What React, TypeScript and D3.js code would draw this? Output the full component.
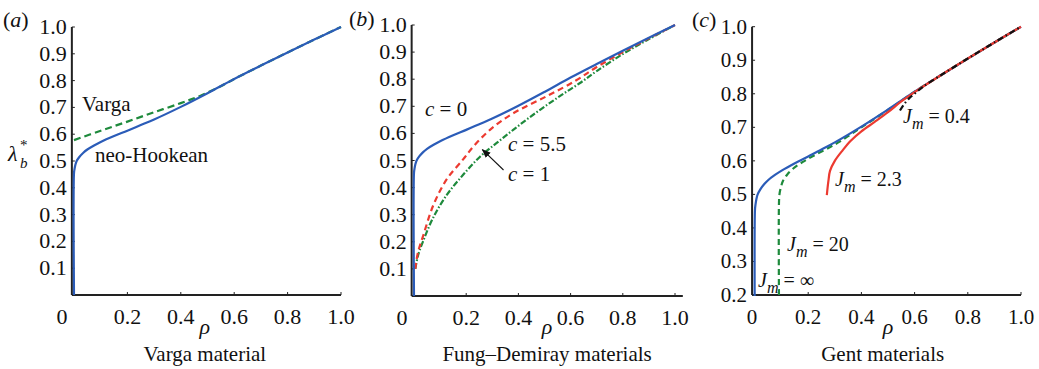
import React from 'react';
import * as d3 from 'd3';

// ---------- data ----------
const xTickValues = [0, 0.2, 0.4, 0.6, 0.8, 1.0];
const xTickLabels = ['0', '0.2', '0.4', '0.6', '0.8', '1.0'];
const yTicksAB = [0.1, 0.2, 0.3, 0.4, 0.5, 0.6, 0.7, 0.8, 0.9, 1.0];
const yTicksC = [0.2, 0.3, 0.4, 0.5, 0.6, 0.7, 0.8, 0.9, 1.0];

// neo-Hookean (c = 0, Jm = infinity)
const rhoNeo = [0, 0, 0.002, 0.005, 0.01, 0.02, 0.035, 0.05, 0.075, 0.1, 0.15, 0.2, 0.25, 0.3, 0.4, 0.5, 0.6, 0.7, 0.8, 0.9, 1.0];
const lamNeo = [0, 0.455, 0.47, 0.485, 0.5, 0.515, 0.531, 0.543, 0.558, 0.571, 0.593, 0.613, 0.634, 0.655, 0.702, 0.753, 0.806, 0.856, 0.905, 0.953, 1.0];

// Varga
const rhoVarga = [0, 0.1, 0.2, 0.3, 0.4, 0.47, 0.55, 0.6, 0.7, 0.8, 0.9, 1.0];
const lamVarga = [0.578, 0.613, 0.647, 0.682, 0.716, 0.742, 0.779, 0.806, 0.856, 0.905, 0.953, 1.0];

// Fung-Demiray c = 5.5 (red dashed)
const rhoFD55 = [0.005, 0.015, 0.036, 0.074, 0.125, 0.189, 0.227, 0.291, 0.38, 0.508, 0.62, 0.7, 0.8, 0.9, 1.0];
const lamFD55 = [0.1, 0.16, 0.225, 0.335, 0.43, 0.505, 0.551, 0.613, 0.674, 0.737, 0.795, 0.845, 0.9, 0.951, 1.0];

// Fung-Demiray c = 1 (green dash-dot)
const rhoFD1 = [0.005, 0.015, 0.036, 0.074, 0.125, 0.189, 0.253, 0.317, 0.38, 0.444, 0.508, 0.572, 0.636, 0.7, 0.8, 0.9, 1.0];
const lamFD1 = [0.1, 0.148, 0.205, 0.29, 0.372, 0.448, 0.514, 0.565, 0.613, 0.66, 0.704, 0.746, 0.786, 0.83, 0.893, 0.948, 1.0];

// Gent Jm = 20 (green dashed)
const rhoG20 = [0.09, 0.09, 0.092, 0.097, 0.105, 0.12, 0.145, 0.18, 0.22, 0.27, 0.32, 0.4, 0.5, 0.6, 0.7, 0.8, 0.9, 1.0];
const lamG20 = [0.2, 0.47, 0.5, 0.52, 0.54, 0.558, 0.578, 0.597, 0.615, 0.636, 0.658, 0.7, 0.752, 0.806, 0.856, 0.905, 0.953, 1.0];

// Gent Jm = 2.3 (red solid)
const rhoG23 = [0.27, 0.276, 0.282, 0.3, 0.33, 0.36, 0.4, 0.45, 0.5, 0.55, 0.6, 0.7, 0.8, 0.9, 1.0];
const lamG23 = [0.498, 0.54, 0.57, 0.6, 0.632, 0.66, 0.688, 0.716, 0.745, 0.777, 0.805, 0.856, 0.905, 0.953, 1.0];

// Gent Jm = 0.4 (black dash-dot)
const rhoG04 = [0.545, 0.56, 0.58, 0.6, 0.63, 0.7, 0.8, 0.9, 1.0];
const lamG04 = [0.75, 0.768, 0.787, 0.8, 0.82, 0.856, 0.905, 0.953, 1.0];

// ---------- style ----------
const FONT = "'Liberation Serif', 'Times New Roman', Times, serif";
const BLUE = '#2b5cb8';
const GREEN = '#1e8a3c';
const RED = '#ec3a30';
const AXIS = '#222';

type Scale = d3.ScaleLinear<number, number>;

function Curve({ xs, ys, sx, sy, color, dash, width = 2.2, clip }: any) {
  const line = d3
    .line<number>()
    .x((_, i) => sx(xs[i]))
    .y((_, i) => sy(ys[i]))
    .curve(d3.curveCatmullRom.alpha(0.5));
  return (
    <path
      d={line(xs) || ''}
      fill="none"
      stroke={color}
      strokeWidth={width}
      strokeDasharray={dash}
      clipPath={clip}
    />
  );
}

function Axes({ sx, sy, axisRho, endRho, yMin, yTicks, zeroDx, fs }: {
  sx: Scale; sy: Scale; axisRho: number; endRho: number; yMin: number; yTicks: number[]; zeroDx: number; fs: number;
}) {
  const ax = sx(axisRho);
  const ay = sy(yMin);
  const top = sy(1.0);
  return (
    <g fontFamily={FONT} fontSize={fs} fill="#111">
      <line x1={ax} x2={ax} y1={top} y2={ay} stroke={AXIS} strokeWidth={2} />
      <line x1={ax} x2={sx(endRho)} y1={ay} y2={ay} stroke={AXIS} strokeWidth={2} />
      {xTickValues.map((v, i) => (
        <g key={'x' + i}>
          {v > 0 && <line x1={sx(v)} x2={sx(v)} y1={ay} y2={ay - 3} stroke={AXIS} strokeWidth={1} />}
          <text x={sx(v) + (v === 0 ? zeroDx : 0)} y={ay + 29} textAnchor="middle">
            {xTickLabels[i]}
          </text>
        </g>
      ))}
      {yTicks.map((v) => (
        <g key={'y' + v}>
          <line x1={ax} x2={ax + 3} y1={sy(v)} y2={sy(v)} stroke={AXIS} strokeWidth={1} />
          <text x={ax - 5} y={sy(v) + 7} textAnchor="end">
            {v.toFixed(1)}
          </text>
        </g>
      ))}
    </g>
  );
}

function Jm({ x, y, value, fs = 21 }: any) {
  return (
    <text x={x} y={y} fontFamily={FONT} fontSize={fs} fill="#111">
      <tspan fontStyle="italic">J</tspan>
      <tspan fontStyle="italic" fontSize={fs * 0.8} dy={6}>m</tspan>
      <tspan dy={-6}>{' = ' + value}</tspan>
    </text>
  );
}

export default function App() {
  const sxA = d3.scaleLinear().domain([0, 1]).range([74, 341]);
  const syA = d3.scaleLinear().domain([0, 1]).range([295, 27]);
  const sxB = d3.scaleLinear().domain([0, 1]).range([414, 675]);
  const syB = d3.scaleLinear().domain([0, 1]).range([296, 25]);
  const sxC = d3.scaleLinear().domain([0, 1]).range([755, 1021]);
  const syC = d3.scaleLinear().domain([0.2, 1]).range([295, 26.7]);

  const fs = 22;
  const arrowTip = [sxB(0.262), syB(0.54)];
  const arrowTail = [sxB(0.343), syB(0.465)];
  const rhoY = 334;
  const capY = 361;

  return (
    <svg
      width={1039}
      height={369}
      style={{ position: 'absolute', left: 0, top: 0, background: '#fff' }}
      xmlns="http://www.w3.org/2000/svg"
    >
      <defs>
        <clipPath id="clipC">
          <rect x={sxC(-0.02)} y={0} width={sxC(1.05) - sxC(-0.02)} height={syC(0.2) + 1} />
        </clipPath>
        <marker id="arr" viewBox="0 0 10 10" refX={9} refY={5} markerWidth={9} markerHeight={9} orient="auto" markerUnits="userSpaceOnUse">
          <path d="M0,1 L10,5 L0,9 Z" fill="#111" />
        </marker>
      </defs>
      <rect x={0} y={0} width={1039} height={369} fill="#fff" />

      {/* ---------- panel (a) ---------- */}
      <Axes sx={sxA} sy={syA} axisRho={-0.008} endRho={1.0} yMin={0} yTicks={yTicksAB} zeroDx={-12} fs={fs} />
      <Curve xs={rhoVarga} ys={lamVarga} sx={sxA} sy={syA} color={GREEN} dash="7 4" />
      <Curve xs={rhoNeo} ys={lamNeo} sx={sxA} sy={syA} color={BLUE} />
      <g fontFamily={FONT} fontSize={21} fill="#111">
        <text x={3} y={27} fontSize={22}>(<tspan fontStyle="italic">a</tspan>)</text>
        <text x={82} y={111}>Varga</text>
        <text x={95} y={162}>neo-Hookean</text>
        <text x={8} y={161} fontStyle="italic" fontSize={22}>λ</text>
        <text x={20} y={168} fontStyle="italic" fontSize={15}>b</text>
        <text x={20} y={150} fontSize={15}>*</text>
        <text x={sxA(0.49)} y={rhoY} textAnchor="middle" fontStyle="italic" fontSize={22}>ρ</text>
        <text x={sxA(0.49)} y={capY} textAnchor="middle">Varga material</text>
      </g>

      {/* ---------- panel (b) ---------- */}
      <Axes sx={sxB} sy={syB} axisRho={-0.009} endRho={1.03} yMin={0} yTicks={yTicksAB} zeroDx={-12} fs={fs} />
      <Curve xs={rhoFD1} ys={lamFD1} sx={sxB} sy={syB} color={GREEN} dash="6 2 1.5 2" />
      <Curve xs={rhoFD55} ys={lamFD55} sx={sxB} sy={syB} color={RED} dash="6 4" />
      <Curve xs={rhoNeo} ys={lamNeo} sx={sxB} sy={syB} color={BLUE} />
      <line x1={arrowTail[0]} y1={arrowTail[1]} x2={arrowTip[0]} y2={arrowTip[1]} stroke="#111" strokeWidth={1.1} markerEnd="url(#arr)" />
      <g fontFamily={FONT} fontSize={21} fill="#111">
        <text x={349} y={26} fontSize={22}>(<tspan fontStyle="italic">b</tspan>)</text>
        <text x={425} y={116}><tspan fontStyle="italic">c</tspan> = 0</text>
        <text x={508} y={151}><tspan fontStyle="italic">c</tspan> = 5.5</text>
        <text x={508} y={181}><tspan fontStyle="italic">c</tspan> = 1</text>
        <text x={sxB(0.51)} y={rhoY} textAnchor="middle" fontStyle="italic" fontSize={22}>ρ</text>
        <text x={sxB(0.51)} y={capY} textAnchor="middle">Fung–Demiray materials</text>
      </g>

      {/* ---------- panel (c) ---------- */}
      <Axes sx={sxC} sy={syC} axisRho={-0.011} endRho={1.0} yMin={0.2} yTicks={yTicksC} zeroDx={-3} fs={21} />
      <Curve xs={rhoG20} ys={lamG20} sx={sxC} sy={syC} color={GREEN} dash="6 4" clip="url(#clipC)" />
      <Curve xs={rhoNeo} ys={lamNeo} sx={sxC} sy={syC} color={BLUE} clip="url(#clipC)" />
      <Curve xs={rhoG23} ys={lamG23} sx={sxC} sy={syC} color={RED} />
      <Curve xs={rhoG04} ys={lamG04} sx={sxC} sy={syC} color="#111" dash="6 3 1.5 3" />
      <g fontFamily={FONT} fontSize={21} fill="#111">
        <text x={692} y={27} fontSize={22}>(<tspan fontStyle="italic">c</tspan>)</text>
        <text x={sxC(0.5)} y={rhoY} textAnchor="middle" fontStyle="italic" fontSize={22}>ρ</text>
        <text x={sxC(0.48)} y={capY} textAnchor="middle">Gent materials</text>
      </g>
      <Jm x={903} y={123} value="0.4" fs={20} />
      <Jm x={835} y={186} value="2.3" fs={20} />
      <Jm x={787} y={251} value="20" fs={20} />
      <Jm x={758} y={287} value="∞" fs={20} />
    </svg>
  );
}
